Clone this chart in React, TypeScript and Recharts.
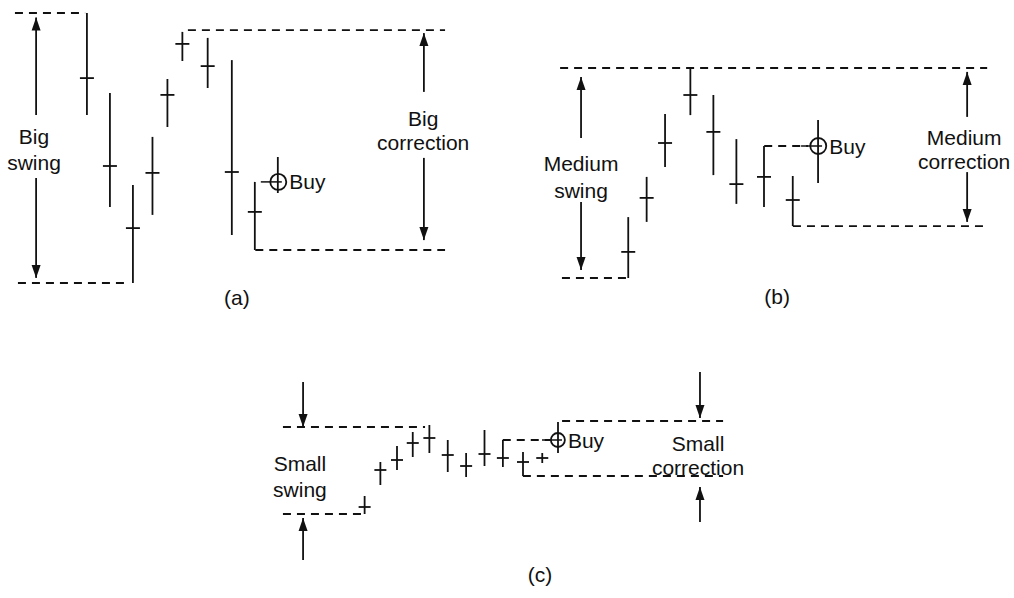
"use client"

import { ComposedChart, Bar, XAxis, YAxis, ReferenceLine, ReferenceDot } from "recharts"

const FONT = "'Liberation Sans', Arial, Helvetica, sans-serif"
const INK = "#111"

// (a) big swing -> big correction
const daysA = [1, 2, 3, 3.85, 4.5, 5.15, 6.25, 7.3, 8.3, 9.3]
const highA = [90, 63.3, 32.7, 48.7, 68, 83.7, 81.7, 74.3, 33.7, 42]
const lowA = [56, 25.3, 0, 22.7, 52, 74, 65, 16, 11, 30]
const closeA = [68.3, 39, 18.3, 36.7, 62.7, 79.7, 72.3, 37, 23.7, 33.7]

// (b) medium swing -> medium correction
const daysB = [1, 1.8, 2.6, 3.7, 4.7, 5.7, 6.9, 8.15, 9.25]
const highB = [20.3, 33.7, 54.7, 70, 61, 46.3, 44, 34, 52.7]
const lowB = [0, 18.7, 37, 54.3, 34.3, 24.7, 23.7, 17.3, 31.7]
const closeB = [8.7, 26.7, 45, 61, 48.7, 31.3, 33.7, 26, 44]

// (c) small swing -> small correction
const daysC = [1, 1.9, 2.85, 3.75, 4.7, 5.75, 6.8, 7.85, 8.9, 10.05, 11.15, 12.05]
const highC = [9, 26, 34, 41, 44.5, 37, 30.5, 42, 37, 31, 30.5, 46]
const lowC = [0, 14.5, 22, 28.5, 30.5, 21, 18.5, 24, 23.5, 19, 25.5, 30.5]
const closeC = [3.5, 22, 27, 35.5, 38, 29.5, 24, 30, 28, 26, 28, 37]

// dashed guide levels: y = price, from x1 to x2 (days)
const dashesA = [
  { y: 90, x1: -2.15, x2: 0.9 },
  { y: 0, x1: -2.02, x2: 2.85 },
  { y: 84.3, x1: 5.37, x2: 16.55 },
  { y: 11, x1: 8.3, x2: 16.55 },
]
const dashesB = [
  { y: 70, x1: -1.97, x2: 16.59 },
  { y: 0, x1: -1.89, x2: 1.0 },
  { y: 44, x1: 6.9, x2: 8.8 },
  { y: 17.3, x1: 8.15, x2: 16.59 },
]
const dashesC = [
  { y: 43.5, x1: -3.66, x2: 4.46 },
  { y: 0, x1: -3.66, x2: 0.86 },
  { y: 46.5, x1: 12.29, x2: 21.49 },
  { y: 19, x1: 10.05, x2: 21.49 },
  { y: 37, x1: 8.9, x2: 11.6 },
]

// arrows: tail at "from", head at "to"
const arrowsA = [
  { x: -1.23, from: 56, to: 88.5 },
  { x: -1.23, from: 35, to: 1.7 },
  { x: 15.63, from: 63.7, to: 83.3 },
  { x: 15.63, from: 41.7, to: 14.3 },
]
const arrowsB = [
  { x: -1.06, from: 46.7, to: 67 },
  { x: -1.06, from: 25.3, to: 2.7 },
  { x: 15.72, from: 53.7, to: 68.7 },
  { x: 15.72, from: 35.3, to: 18.7 },
]
const arrowsC = [
  { x: -2.51, from: 66, to: 43.5 },
  { x: -2.51, from: -23, to: -2 },
  { x: 20.17, from: 71, to: 48 },
  { x: 20.17, from: -4, to: 13.5 },
]

const notesA = [
  { x: -1.32, y: 48.7, text: "Big" },
  { x: -1.32, y: 40.3, text: "swing" },
  { x: 15.6, y: 55, text: "Big" },
  { x: 15.6, y: 46.7, text: "correction" },
  { x: 7.5, y: -4.7, text: "(a)" },
]
const notesB = [
  { x: -1.06, y: 38.3, text: "Medium" },
  { x: -1.06, y: 29.3, text: "swing" },
  { x: 15.59, y: 47, text: "Medium" },
  { x: 15.59, y: 38.7, text: "correction" },
  { x: 7.46, y: -6.3, text: "(b)" },
]
const notesC = [
  { x: -2.69, y: 25.5, text: "Small" },
  { x: -2.69, y: 12.5, text: "swing" },
  { x: 20.06, y: 35.5, text: "Small" },
  { x: 20.06, y: 23.5, text: "correction" },
  { x: 11.03, y: -30, text: "(c)" },
]

const toRows = (days: number[], highs: number[], lows: number[], closes: number[]) =>
  days.map((day, i) => ({
    day,
    high: highs[i],
    low: lows[i],
    close: closes[i],
    buy: i === days.length - 1,
  }))

const makeBarShape = (tick: number) => (props: any) => {
  const { x, y, width, height, payload } = props
  const cx = x + width / 2
  const top = Math.min(y, y + height)
  const h = Math.abs(height)
  const span = payload.high - payload.low || 1
  const yc = top + ((payload.high - payload.close) / span) * h
  return (
    <g>
      <line x1={cx} x2={cx} y1={top} y2={top + h} stroke={INK} strokeWidth={1.8} />
      {payload.buy ? (
        <line x1={cx - tick - 10} x2={cx + 4} y1={yc} y2={yc} stroke={INK} strokeWidth={1.5} />
      ) : (
        <line x1={cx - tick} x2={cx + tick} y1={yc} y2={yc} stroke={INK} strokeWidth={1.8} />
      )}
    </g>
  )
}

const arrowHead = (up: boolean) => (p: any) => {
  const { cx, cy } = p
  const base = up ? cy + 13 : cy - 13
  return <polygon points={`${cx},${cy} ${cx - 4.5},${base} ${cx + 4.5},${base}`} fill={INK} />
}

const noteShape = (text: string, anchor: "start" | "middle", dx: number) => (p: any) => (
  <text
    x={p.cx + dx}
    y={p.cy}
    textAnchor={anchor}
    dominantBaseline="central"
    fontFamily={FONT}
    fontSize={21}
    fill={INK}
  >
    {text}
  </text>
)

function Panel({ left, top, width, height, xDomain, yDomain, rows, tick, dashes, arrows, notes, buyR }: any) {
  const buyRow = rows[rows.length - 1]
  return (
    <div style={{ position: "absolute", left, top }}>
      <ComposedChart width={width} height={height} data={rows} margin={{ top: 0, right: 0, bottom: 0, left: 0 }}>
        <XAxis type="number" dataKey="day" domain={xDomain} hide allowDataOverflow />
        <YAxis type="number" domain={yDomain} hide allowDataOverflow />
        {dashes.map((d: any, i: number) => (
          <ReferenceLine
            key={`d${i}`}
            segment={[{ x: d.x1, y: d.y }, { x: d.x2, y: d.y }]}
            stroke={INK}
            strokeWidth={1.8}
            strokeDasharray="8 6"
          />
        ))}
        {arrows.map((a: any, i: number) => (
          <ReferenceLine
            key={`a${i}`}
            segment={[{ x: a.x, y: a.from }, { x: a.x, y: a.to }]}
            stroke={INK}
            strokeWidth={1.8}
          />
        ))}
        {arrows.map((a: any, i: number) => (
          <ReferenceDot key={`h${i}`} x={a.x} y={a.to} r={1} shape={arrowHead(a.to > a.from)} />
        ))}
        <Bar dataKey={(r: any) => [r.low, r.high]} barSize={4} shape={makeBarShape(tick)} isAnimationActive={false} />
        <ReferenceDot x={buyRow.day} y={buyRow.close} r={buyR} fill="#fff" fillOpacity={0} stroke={INK} strokeWidth={1.8} />
        <ReferenceDot x={buyRow.day} y={buyRow.close} r={1} shape={noteShape("Buy", "start", buyR + 3)} />
        {notes.map((n: any, i: number) => (
          <ReferenceDot key={`n${i}`} x={n.x} y={n.y} r={1} shape={noteShape(n.text, "middle", 0)} />
        ))}
      </ComposedChart>
    </div>
  )
}

export default function App() {
  return (
    <div style={{ position: "absolute", left: 0, top: 0, width: 1014, height: 598, background: "#fff", overflow: "hidden" }}>
      <style>{`svg{overflow:visible}`}</style>
      <Panel
        left={0}
        top={1}
        width={506}
        height={309}
        xDomain={[-2.8, 19.2]}
        yDomain={[-9, 94]}
        rows={toRows(daysA, highA, lowA, closeA)}
        tick={7}
        dashes={dashesA}
        arrows={arrowsA}
        notes={notesA}
        buyR={8}
      />
      <Panel
        left={518}
        top={38}
        width={497}
        height={270}
        xDomain={[-3.8, 17.8]}
        yDomain={[-10, 80]}
        rows={toRows(daysB, highB, lowB, closeB)}
        tick={7}
        dashes={dashesB}
        arrows={arrowsB}
        notes={notesB}
        buyR={8}
      />
      <Panel
        left={242}
        top={370}
        width={525}
        height={220}
        xDomain={[-6, 24]}
        yDomain={[-38, 72]}
        rows={toRows(daysC, highC, lowC, closeC)}
        tick={6}
        dashes={dashesC}
        arrows={arrowsC}
        notes={notesC}
        buyR={7}
      />
    </div>
  )
}
